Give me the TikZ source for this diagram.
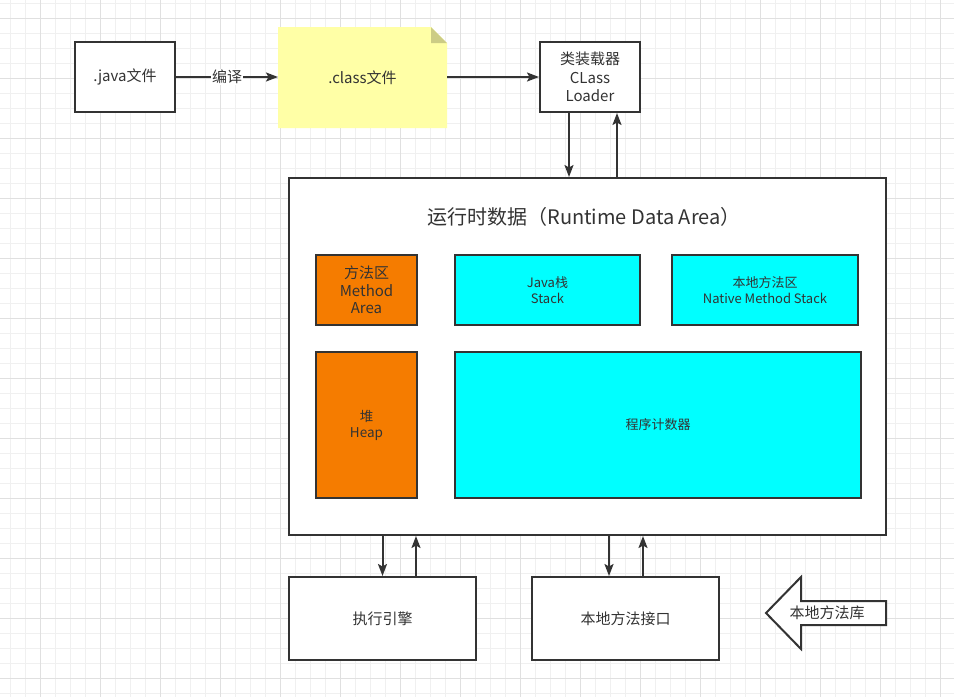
\documentclass[tikz,border=0pt]{standalone}
\usepackage{fontspec}
\setmainfont{Noto Sans CJK SC}
\usetikzlibrary{arrows.meta,backgrounds}

\definecolor{linegray}{HTML}{333333}
\definecolor{notefill}{HTML}{FFFFA6}
\definecolor{notefold}{HTML}{CCCC85}
\definecolor{areaorange}{HTML}{F57C00}
\definecolor{areacyan}{HTML}{00FFFF}
\definecolor{gridminor}{HTML}{F0F0F0}
\definecolor{gridmajor}{HTML}{E0E0E0}

\begin{document}
\begin{tikzpicture}[x=1pt,y=-1pt,>={Stealth[length=12pt,width=9pt,inset=2.5pt]},
  main box/.style={draw=linegray,fill=white,line width=2pt,inner sep=0pt,align=center,
    text=linegray,font=\fontsize{15}{18.5}\selectfont},
  area box/.style={main box,font=\fontsize{13}{16}\selectfont},
  flow/.style={->,draw=linegray,line width=2pt}]

  \useasboundingbox (0,0) rectangle (954,697);
  \begin{scope}[on background layer]
    \fill[white] (0,0) rectangle (954,697);
    \foreach \gx in {10,25,...,950} \draw[gridminor,line width=1pt] (\gx,0) -- (\gx,697);
    \foreach \gy in {3,18,...,693} \draw[gridminor,line width=1pt] (0,\gy) -- (954,\gy);
    \foreach \gx in {40,100,...,940} \draw[gridmajor,line width=1pt] (\gx,0) -- (\gx,697);
    \foreach \gy in {18,78,...,678} \draw[gridmajor,line width=1pt] (0,\gy) -- (954,\gy);
  \end{scope}

  % source, class file, loader
  \node[main box,minimum width=100pt,minimum height=70pt] (java) at (125,77) {.java文件};
  \node[main box,draw=none,fill=none,minimum width=167pt,minimum height=99pt] (class) at (362.5,77.5) {.class文件};
  \begin{scope}[on background layer]
    \fill[notefill] (class.north west) -- ([xshift=-16pt]class.north east)
      -- ([yshift=-16pt]class.north east) -- (class.south east) -- (class.south west) -- cycle;
    \fill[notefold] ([xshift=-16pt]class.north east) -- ([yshift=-16pt]class.north east)
      -- ([xshift=-16pt,yshift=-16pt]class.north east) -- cycle;
  \end{scope}
  \node[main box,minimum width=100pt,minimum height=70pt] (loader) at (590,77) {类装载器\\CLass\\Loader};

  % runtime data area
  \node[main box,minimum width=597pt,minimum height=357pt] (runtime) at (587.5,356.5) {};
  \node[text=linegray,font=\fontsize{20}{24}\selectfont] (title) at (584,217) {运行时数据（Runtime Data Area）};
  \node[main box,fill=areaorange,font=\fontsize{15}{17.5}\selectfont,minimum width=101pt,minimum height=70pt] (method) at (366.5,290) {方法区\\Method\\Area};
  \node[area box,fill=areacyan,minimum width=185pt,minimum height=70pt] (stack) at (547.5,290) {Java栈\\Stack};
  \node[area box,fill=areacyan,minimum width=186pt,minimum height=70pt] (native) at (765,290) {本地方法区\\Native Method Stack};
  \node[area box,fill=areaorange,font=\fontsize{13.5}{16}\selectfont,minimum width=101pt,minimum height=146pt] (heap) at (366.5,425) {堆\\Heap};
  \node[area box,fill=areacyan,minimum width=406pt,minimum height=146pt] (pc) at (658,425) {程序计数器};

  % engine and native interface
  \node[main box,minimum width=187pt,minimum height=83pt] (engine) at (382.5,618.5) {执行引擎};
  \node[main box,minimum width=187pt,minimum height=83pt] (jni) at (625.5,618.5) {本地方法接口};
  \draw[draw=linegray,fill=white,line width=2pt,line join=miter] (766,613) -- (801,577) -- (801,601) -- (886,601)
    -- (886,625) -- (801,625) -- (801,649) -- cycle;
  \node[text=linegray,font=\fontsize{15}{18}\selectfont] (lib) at (827,613) {本地方法库};

  \draw[flow] (java.east) -- node[fill=white,inner sep=1pt,text=linegray,font=\fontsize{15}{18}\selectfont] {编译} (java.east -| class.west);
  \draw[flow] (class.east |- loader.west) -- (loader.west);
  \draw[flow] ([xshift=-21pt]loader.south) -- ([xshift=-21pt]loader.south |- runtime.north);
  \draw[flow] ([xshift=27pt]loader.south |- runtime.north) -- ([xshift=27pt]loader.south);
  \draw[flow] (engine.north |- runtime.south) -- (engine.north);
  \draw[flow] ([xshift=33.5pt]engine.north) -- ([xshift=33.5pt]engine.north |- runtime.south);
  \draw[flow] ([xshift=-16.5pt]jni.north |- runtime.south) -- ([xshift=-16.5pt]jni.north);
  \draw[flow] ([xshift=17.5pt]jni.north) -- ([xshift=17.5pt]jni.north |- runtime.south);
\end{tikzpicture}
\end{document}
